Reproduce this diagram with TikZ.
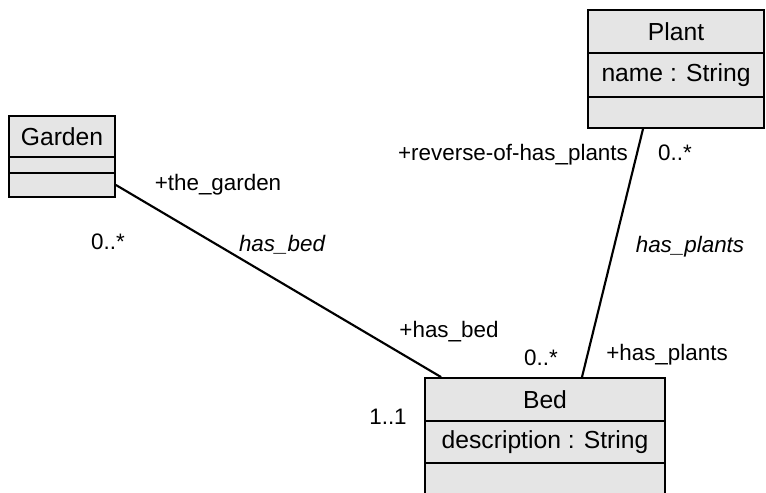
\documentclass[tikz,border=0pt]{standalone}
\usepackage{fontspec}
\setmainfont{Liberation Sans}
\usepackage{tikz}
\usetikzlibrary{calc}

\begin{document}
\begin{tikzpicture}[x=0.75pt, y=-0.75pt, font=\fontsize{16.8}{19}\selectfont,
        classpart/.style={draw, line width=1.4pt, fill=gray!20, inner sep=0pt, align=center,
            font=\fontsize{18.5}{21}\selectfont},
        assoc/.style={line width=1.6pt},
        rolelabel/.style={inner sep=0pt}]
        \useasboundingbox (0,0) rectangle (766,492);

        % classes
        \node[classpart, minimum width=79.5pt, minimum height=30.75pt] (garden) at (62, 136.5) {Garden};
        \node[classpart, minimum width=79.5pt, minimum height=12pt] (garden-attr) at (62, 165) {};
        \node[classpart, minimum width=79.5pt, minimum height=18pt] (garden-ops) at (62, 185) {};

        \node[classpart, minimum width=132pt, minimum height=32.25pt] (plant) at (676, 31.5) {Plant};
        \node[classpart, minimum width=132pt, minimum height=33pt] (plant-attr) at (676, 75) {name : String};
        \node[classpart, minimum width=132pt, minimum height=23.25pt] (plant-ops) at (676, 112.5) {};

        \node[classpart, minimum width=180pt, minimum height=32.25pt] (bed) at (545, 399.5) {Bed};
        \node[classpart, minimum width=180pt, minimum height=31.5pt] (bed-attr) at (545, 442) {description : String};
        \node[classpart, minimum width=180pt, minimum height=35.25pt] (bed-ops) at (545, 486.5) {};

        % associations
        \draw[assoc] (garden-ops.east) -- ($(bed.north west)+(17,0)$);
        \draw[assoc] ($(plant-ops.south)+(-33,0)$) -- ($(bed.north)+(37,0)$);

        % labels
        \node[rolelabel] (garden-role) at (218, 185) {+the\_garden};
        \node[rolelabel] (garden-mult) at (108, 242) {0..*};
        \node[rolelabel] (hasbed-name) at (282, 245) {\itshape has\_bed};
        \node[rolelabel] (hasbed-role) at (449, 332) {+has\_bed};
        \node[rolelabel] (hasbed-mult) at (541, 358) {0..*};
        \node[rolelabel] (bed-mult) at (388, 417) {1..1};
        \node[rolelabel] (plants-role) at (667, 355) {+has\_plants};
        \node[rolelabel] (reverse-role) at (513, 155) {+reverse-of-has\_plants};
        \node[rolelabel] (plants-mult) at (675, 153) {0..*};
        \node[rolelabel] (hasplants-name) at (690, 247) {\itshape has\_plants};
    \end{tikzpicture}
\end{document}
